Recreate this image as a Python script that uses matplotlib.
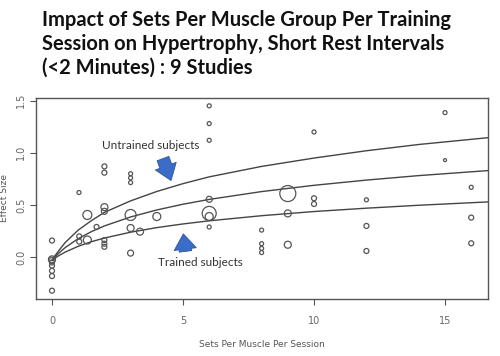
import numpy as np
import matplotlib
matplotlib.use("Agg")
import matplotlib.pyplot as plt

# study effect sizes (sets per muscle per session, effect size, relative weight)
sets = [0, 0, 0, 0, 0, 0, 0, 0,
        1.03, 1.04, 1.04, 1.35, 1.35, 1.7,
        2, 2, 2, 2, 2, 2, 2,
        3, 3, 3, 3, 3, 3, 3.36, 4,
        6, 6, 6, 6, 6, 6, 6,
        8, 8, 8, 8,
        9, 9, 9, 10, 10, 10, 12, 12, 12,
        15, 15, 16, 16, 16]
effect = [0.16, -0.02, -0.03, -0.05, -0.08, -0.13, -0.18, -0.32,
          0.62, 0.20, 0.15, 0.405, 0.165, 0.29,
          0.87, 0.81, 0.48, 0.44, 0.165, 0.13, 0.10,
          0.80, 0.76, 0.715, 0.405, 0.28, 0.04, 0.245, 0.39,
          1.45, 1.28, 1.12, 0.555, 0.42, 0.39, 0.29,
          0.26, 0.13, 0.085, 0.045,
          0.61, 0.42, 0.12, 1.20, 0.565, 0.51, 0.55, 0.30, 0.06,
          1.385, 0.93, 0.67, 0.38, 0.134]
weight = [5, 7, 6, 5, 5, 5, 5, 5,
          4, 5, 5, 9, 8, 5,
          5, 5, 7, 6, 5, 5, 5,
          4, 4, 4, 11, 7, 6, 7, 8,
          4, 4, 4, 6, 14, 8, 4,
          4, 4, 4, 4,
          16, 7, 7, 4, 5, 5, 4, 5, 5,
          4, 3, 4, 5, 5]

# fitted curves
curve_x = [0, 0.1, 0.25, 0.5, 1, 1.5, 2, 3, 4, 5, 6, 8, 10, 12, 14, 16.64]
untrained = [-0.03, 0.01, 0.06, 0.14, 0.26, 0.35, 0.43, 0.54, 0.63, 0.705,
             0.77, 0.87, 0.95, 1.02, 1.08, 1.145]
overall = [-0.03, 0.0, 0.037, 0.092, 0.178, 0.245, 0.30, 0.386, 0.453, 0.508,
           0.554, 0.629, 0.689, 0.739, 0.782, 0.83]
trained = [-0.03, -0.011, 0.014, 0.049, 0.105, 0.149, 0.184, 0.24, 0.284, 0.319,
           0.349, 0.398, 0.438, 0.47, 0.498, 0.53]

xticks = [0, 5, 10, 15]
yticks = [0.0, 0.5, 1.0, 1.5]

title_lines = ["Impact of Sets Per Muscle Group Per Training",
               "Session on Hypertrophy, Short Rest Intervals",
               "(<2 Minutes) : 9 Studies"]

grey = "#555555"
blue = "#3a6cc8"

fig = plt.figure(figsize=(5, 3.56), dpi=100)
ax = fig.add_axes([0.072, 0.160, 0.904, 0.565])

# marker diameter in px -> points^2
sizes = [(w * 0.72) ** 2 for w in weight]
ax.scatter(sets, effect, s=sizes, facecolors="none", edgecolors=grey, linewidths=0.9, zorder=3)

for ys in (untrained, overall, trained):
    ax.plot(curve_x, ys, color="#444444", lw=1.0, zorder=2)

ax.set_xlim(-0.61, 16.64)
ax.set_ylim(-0.40, 1.526)
ax.set_xticks(xticks)
ax.set_xticklabels([str(t) for t in xticks])
ax.set_yticks(yticks)
ax.set_yticklabels(["%.1f" % t for t in yticks], rotation=90, va="center")

narrow = ["Liberation Sans Narrow", "DejaVu Sans"]
for lab in ax.get_xticklabels() + ax.get_yticklabels():
    lab.set_family(narrow)
    lab.set_fontsize(7)
    lab.set_color("#666666")
ax.tick_params(length=4, width=0.8, color=grey)
ax.tick_params(axis="x", pad=8)
ax.tick_params(axis="y", pad=3)
for sp in ax.spines.values():
    sp.set_color(grey)
    sp.set_linewidth(1.0)

ax.set_xlabel("Sets Per Muscle Per Session", family=narrow, fontsize=6.5, color="#555555", labelpad=10)
ax.set_ylabel("Effect Size", family=narrow, fontsize=6.5, color="#555555", labelpad=5)

# annotations
ax.text(3.76, 1.069, "Untrained subjects", family="Lato", fontsize=8.5, color="#333333",
        ha="center", va="center")
ax.text(5.68, -0.048, "Trained subjects", family="Lato", fontsize=8.5, color="#333333",
        ha="center", va="center")
astyle = "simple,head_width=16,head_length=11,tail_width=9"
ax.annotate("", xy=(4.58, 0.71), xytext=(4.2, 0.97),
            arrowprops=dict(arrowstyle=astyle, mutation_scale=1, fc=blue, ec="#2f5597", lw=0.6))
ax.annotate("", xy=(5.0, 0.25), xytext=(5.11, 0.03),
            arrowprops=dict(arrowstyle=astyle, mutation_scale=1, fc=blue, ec="#2f5597", lw=0.6))

for i, line in enumerate(title_lines):
    fig.text(0.084, 1 - (20 + 24 * i) / 356, line, family="Lato", fontweight="bold",
             fontsize=14.5, color="#111111", ha="left", va="center")

fig.savefig("out.png", dpi=100)
